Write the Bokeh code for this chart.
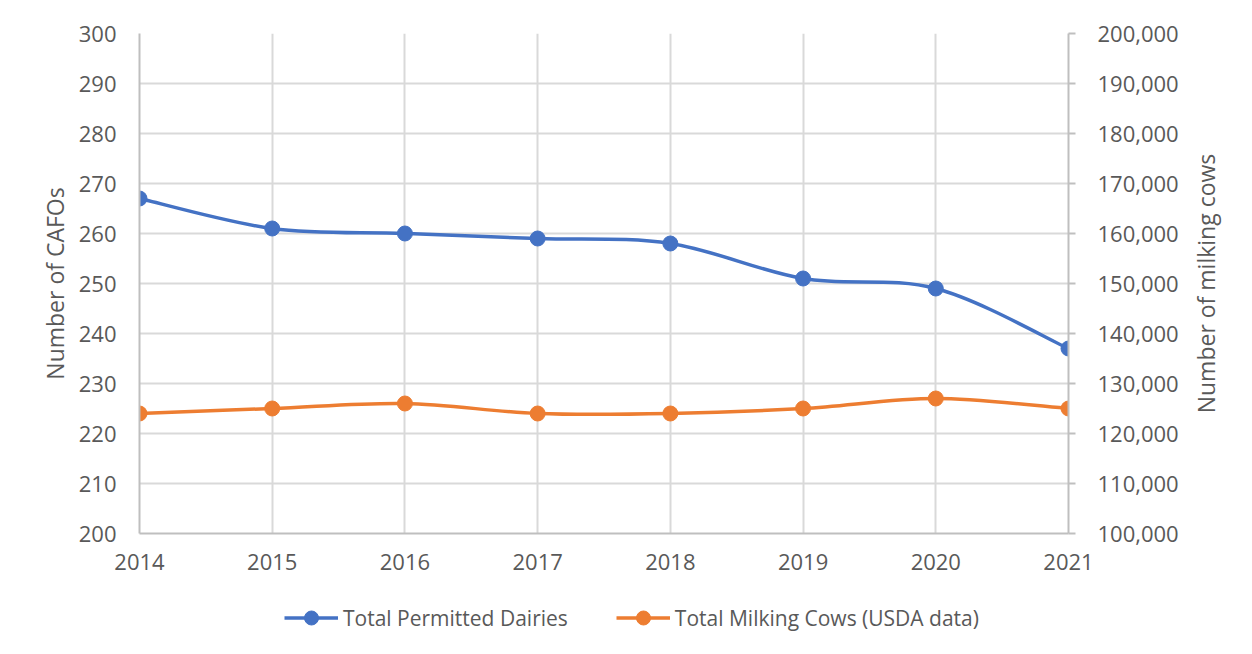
from bokeh.plotting import figure
from bokeh.layouts import column, row
from bokeh.models import (Range1d, LinearAxis, FixedTicker, NumeralTickFormatter,
                          Legend, LegendItem, ColumnDataSource, Title)
from bokeh.embed import file_html
from bokeh.resources import INLINE

years = [2014, 2015, 2016, 2017, 2018, 2019, 2020, 2021]
dairies = [267, 261, 260, 259, 258, 251, 249, 237]
cows = [124000, 125000, 126000, 124000, 124000, 125000, 127000, 125000]
labels = ["Total Permitted Dairies", "Total Milking Cows (USDA data)"]
left_title = "Number of CAFOs"
right_title = "Number of milking cows"

BLUE = "#4472C4"
ORANGE = "#ED7D31"
TXT = "#595959"
FONT = "Open Sans"


def bezier_src(xs, ys):
    n = len(xs)
    d = dict(x0=[], y0=[], x1=[], y1=[], cx0=[], cy0=[], cx1=[], cy1=[])
    for i in range(n - 1):
        p0x, p0y = xs[max(i - 1, 0)], ys[max(i - 1, 0)]
        p1x, p1y = xs[i], ys[i]
        p2x, p2y = xs[i + 1], ys[i + 1]
        p3x, p3y = xs[min(i + 2, n - 1)], ys[min(i + 2, n - 1)]
        d["x0"].append(p1x); d["y0"].append(p1y)
        d["x1"].append(p2x); d["y1"].append(p2y)
        d["cx0"].append(p1x + (p2x - p0x) / 6); d["cy0"].append(p1y + (p2y - p0y) / 6)
        d["cx1"].append(p2x - (p3x - p1x) / 6); d["cy1"].append(p2y - (p3y - p1y) / 6)
    return ColumnDataSource(d)


# ---------------- main chart ----------------
p = figure(width=1187, height=585, output_backend="svg", toolbar_location=None,
           x_range=Range1d(2014, 2021), y_range=Range1d(200, 300),
           min_border_left=139, min_border_right=119, min_border_top=33,
           min_border_bottom=52)
p.extra_y_ranges = {"cows": Range1d(100000, 200000)}
p.outline_line_color = None
p.background_fill_color = "white"
p.border_fill_color = "white"

p.xaxis.ticker = FixedTicker(ticks=years)
p.yaxis.ticker = FixedTicker(ticks=list(range(200, 301, 10)))
p.yaxis.axis_label = left_title

ax_r = LinearAxis(y_range_name="cows",
                  ticker=FixedTicker(ticks=list(range(100000, 200001, 10000))),
                  formatter=NumeralTickFormatter(format="0,0"))
p.add_layout(ax_r, "right")

for ax in [p.xaxis[0], p.yaxis[0], ax_r]:
    ax.axis_line_color = "#BFBFBF"
    ax.axis_line_width = 2
    ax.major_tick_line_color = None
    ax.minor_tick_line_color = None
    ax.major_label_text_font = FONT
    ax.major_label_text_font_size = "22px"
    ax.major_label_text_color = TXT
    ax.axis_label_text_font = FONT
    ax.axis_label_text_font_size = "23px"
    ax.axis_label_text_color = TXT
    ax.axis_label_text_font_style = "normal"

ax_r.major_tick_line_color = "#BFBFBF"
ax_r.major_tick_line_width = 2
ax_r.major_tick_out = 7
ax_r.major_tick_in = 0
ax_r.major_label_standoff = 22
p.yaxis[0].major_label_standoff = 17
p.yaxis[0].axis_label_standoff = 5
p.xaxis[0].major_label_standoff = 14

p.xgrid.grid_line_color = "#D9D9D9"
p.ygrid.grid_line_color = "#D9D9D9"
p.xgrid.grid_line_width = 2
p.ygrid.grid_line_width = 2

p.bezier("x0", "y0", "x1", "y1", "cx0", "cy0", "cx1", "cy1",
         source=bezier_src(years, dairies), line_color=BLUE, line_width=3.5)
p.scatter(years, dairies, size=15, fill_color=BLUE, line_color=BLUE)
p.bezier("x0", "y0", "x1", "y1", "cx0", "cy0", "cx1", "cy1",
         source=bezier_src(years, cows), line_color=ORANGE, line_width=3.5,
         y_range_name="cows")
p.scatter(years, cows, size=15, fill_color=ORANGE, line_color=ORANGE,
          y_range_name="cows")

# ---------------- right axis title (reads bottom-to-top) ----------------
pt = figure(width=49, height=585, output_backend="svg", toolbar_location=None,
            x_axis_type=None, y_axis_type=None,
            min_border_left=0, min_border_right=0, min_border_top=33,
            min_border_bottom=52)
pt.outline_line_color = None
pt.border_fill_color = "white"
pt.background_fill_color = "white"
pt.add_layout(Title(text=right_title, align="center", text_font=FONT,
                    text_font_size="23px", text_color=TXT,
                    text_font_style="normal", standoff=0, offset=0), "left")

# ---------------- legend strip ----------------
pl = figure(width=1236, height=53, output_backend="svg", toolbar_location=None,
            x_axis_type=None, y_axis_type=None,
            x_range=Range1d(0, 1), y_range=Range1d(0, 1),
            min_border=0)
pl.outline_line_color = None
pl.border_fill_color = "white"
pl.background_fill_color = "white"
l1 = pl.line(years, dairies, line_color=BLUE, line_width=3.5)
m1 = pl.scatter(years, dairies, fill_color=BLUE, line_color=BLUE)
l2 = pl.line(years, cows, line_color=ORANGE, line_width=3.5)
m2 = pl.scatter(years, cows, fill_color=ORANGE, line_color=ORANGE)
legend = Legend(items=[LegendItem(label=labels[0], renderers=[l1, m1]),
                       LegendItem(label=labels[1], renderers=[l2, m2])],
                orientation="horizontal", location=(284, 3),
                glyph_width=54, glyph_height=35, label_standoff=5, spacing=48,
                label_text_font=FONT, label_text_font_size="21px",
                label_text_color=TXT, border_line_color=None,
                background_fill_alpha=0, margin=0, padding=0)
pl.add_layout(legend, "center")

layout = column(row(p, pt, spacing=0), pl, spacing=0)
open("out.html", "w").write(file_html(layout, INLINE))
